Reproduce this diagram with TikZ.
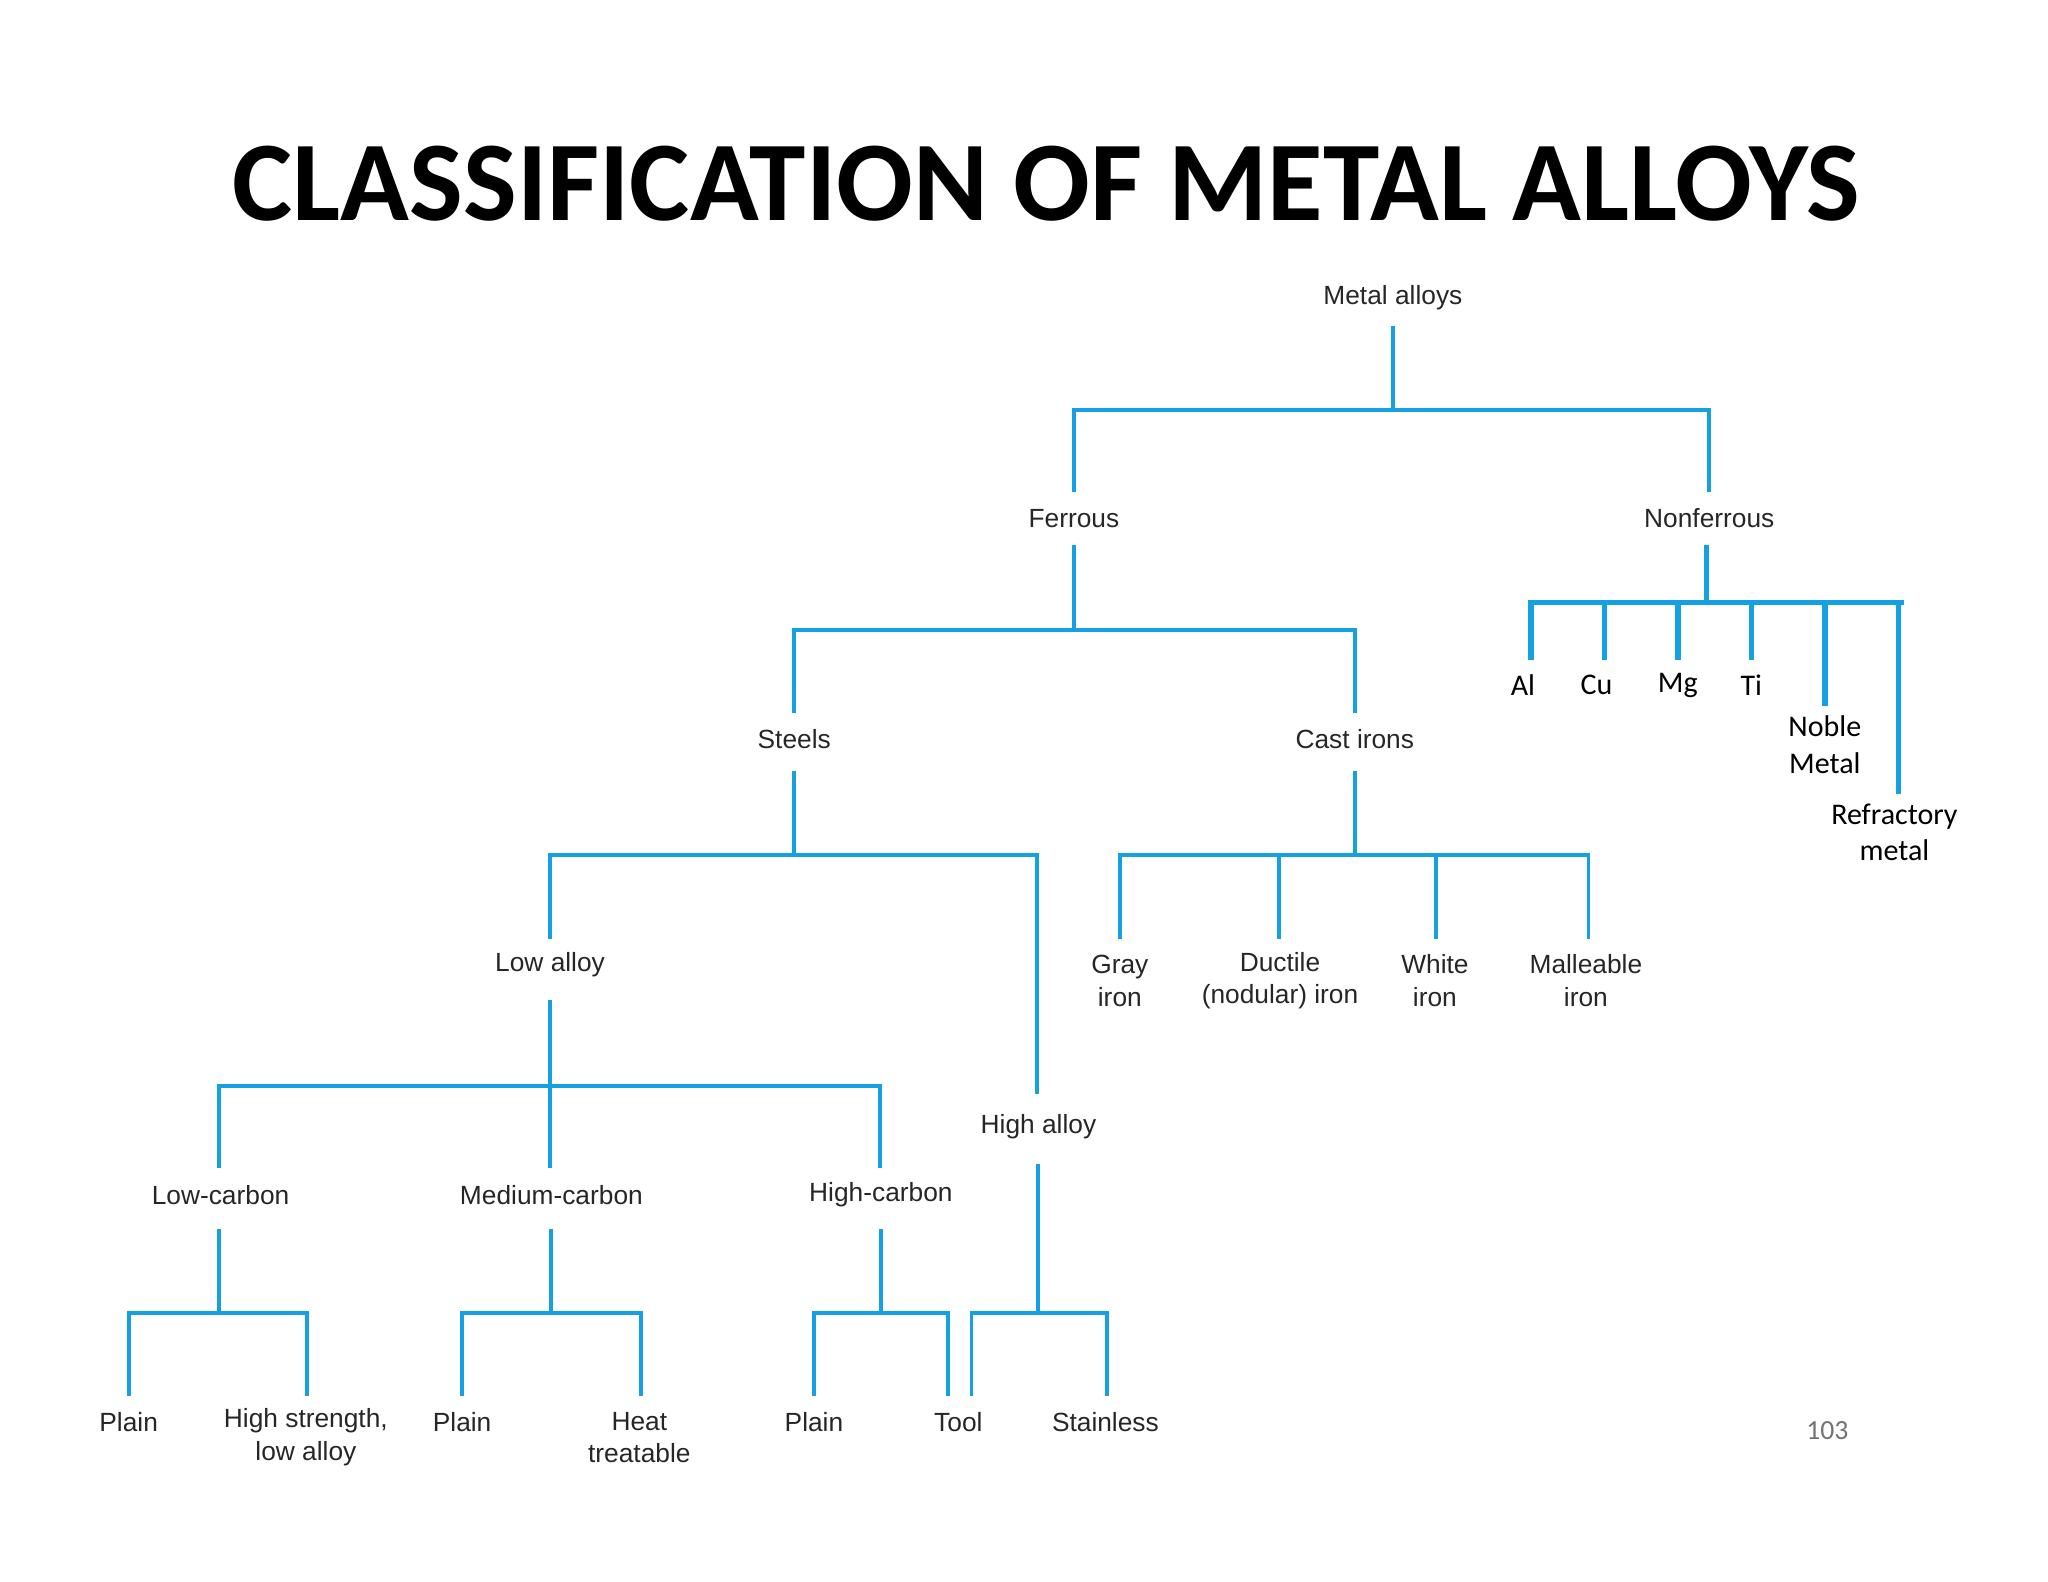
\documentclass[tikz,border=0pt]{standalone}
\usepackage{fontspec}
\setmainfont{Liberation Sans}
\newfontfamily\calfnt{Carlito}
\begin{document}
\begin{tikzpicture}[x=0.01cm,y=-0.01cm,
  br/.style={draw={rgb,255:red,20;green,160;blue,225},line width=0.85pt},
  brt/.style={draw={rgb,255:red,20;green,160;blue,225},line width=1.2pt},
  lab/.style={font=\fontsize{5.7}{7.1}\selectfont,align=center,inner sep=0pt,text=black!85},
  cl/.style={font=\calfnt\fontsize{6.5}{8}\selectfont,align=center,inner sep=0pt}]
\useasboundingbox (0,0) rectangle (1560,1205);
\node[font=\calfnt\bfseries\fontsize{24.6}{28}\selectfont] (title) at (797,140) {CLASSIFICATION OF METAL ALLOYS};
\node[lab] (metal) at (1061,227) {Metal alloys};
\node[lab] (fer) at (818,395) {Ferrous};
\node[lab] (nonf) at (1302,395) {Nonferrous};
\node[lab] (steel) at (605,563) {Steels};
\node[lab] (cast) at (1032,563) {Cast irons};
\node[cl] (al) at (1160,522) {Al};
\node[cl] (cu) at (1216,522) {Cu};
\node[cl] (mg) at (1278,522) {Mg};
\node[cl] (ti) at (1334,522) {Ti};
\node[cl] (noble) at (1390,567) {Noble\\Metal};
\node[cl] (refr) at (1443,634) {Refractory\\metal};
\node[lab] (low) at (419,735) {Low alloy};
\node[lab] (high) at (791,858) {High alloy};
\node[lab] (gray) at (853,747) {Gray\\iron};
\node[lab] (duct) at (975,747) {Ductile\\(nodular) iron};
\node[lab] (white) at (1093,747) {White\\iron};
\node[lab] (mall) at (1208,747) {Malleable\\iron};
\node[lab] (lc) at (168,910) {Low-carbon};
\node[lab] (mc) at (420,910) {Medium-carbon};
\node[lab] (hc) at (671,910) {High-carbon};
\node[lab] (p1) at (98,1083) {Plain};
\node[lab] (hs) at (233,1095) {High strength,\\low alloy};
\node[lab] (p2) at (352,1083) {Plain};
\node[lab] (ht) at (487,1095) {Heat\\treatable};
\node[lab] (p3) at (620,1083) {Plain};
\node[lab] (tool) at (730,1083) {Tool};
\node[lab] (stain) at (842,1083) {Stainless};
\node[font=\calfnt\fontsize{6}{7}\selectfont,text=black!55] (pg) at (1392,1090) {103};
% connectors
\draw[br] (1061,248) -- (1061,312) (818,375) -- (818,312) -- (1302,312) -- (1302,375);
\draw[br] (818,415) -- (818,480) (605,543) -- (605,480) -- (1032,480) -- (1032,543);
\draw[brt] (1300,415) -- (1300,459) (1166,503) -- (1166,459) -- (1450,459);
\foreach \x/\y in {1222/503,1278/503,1334/503,1390/538,1446/605} \draw[brt] (\x,459) -- (\x,\y);
\draw[br] (605,587) -- (605,651) (419,715) -- (419,651) -- (790,651) -- (790,833);
\draw[br] (1032,587) -- (1032,651) (853,715) -- (853,651) -- (1210,651) -- (1210,715);
\draw[br] (974,651) -- (974,715) (1094,651) -- (1094,715);
\draw[br] (419,762) -- (419,827) (167,890) -- (167,827) -- (670,827) -- (670,890) (419,827) -- (419,890);
\draw[br] (791,887) -- (791,1000) (740,1063) -- (740,1000) -- (843,1000) -- (843,1063);
\draw[br] (167,936) -- (167,1000) (98,1063) -- (98,1000) -- (234,1000) -- (234,1063);
\draw[br] (420,936) -- (420,1000) (352,1063) -- (352,1000) -- (488,1000) -- (488,1063);
\draw[br] (671,936) -- (671,1000) (620,1063) -- (620,1000) -- (722,1000) -- (722,1063);
\end{tikzpicture}
\end{document}
